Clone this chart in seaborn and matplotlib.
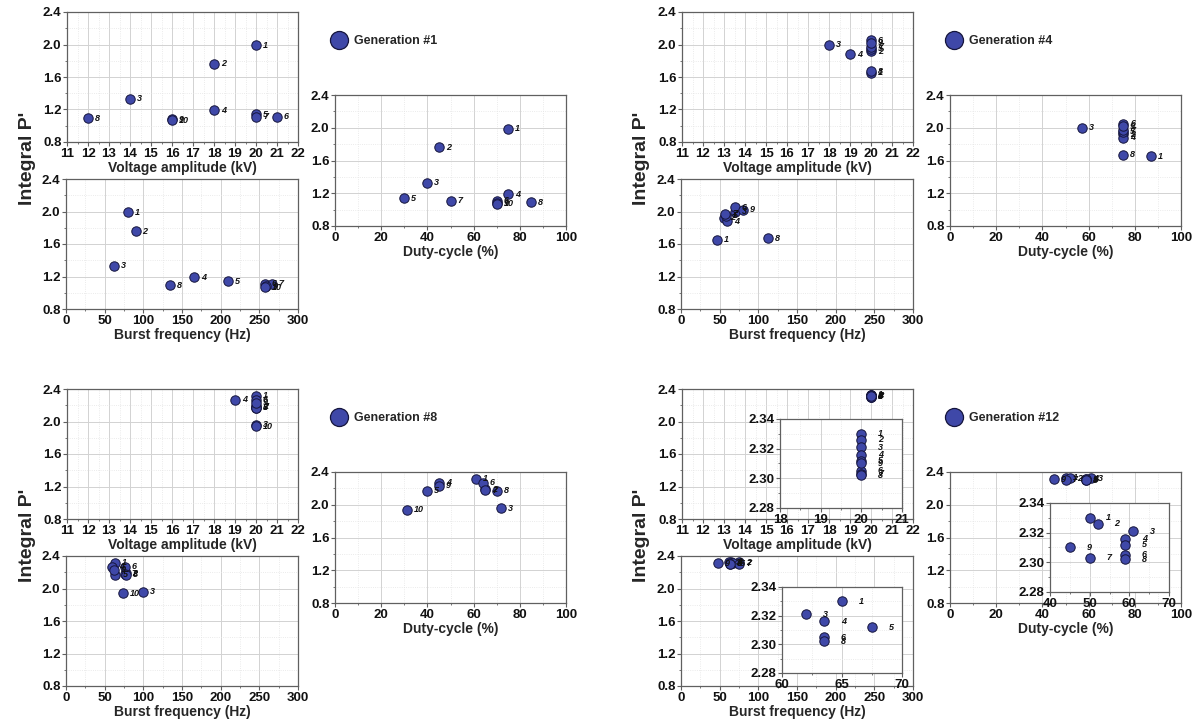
import matplotlib
matplotlib.use("Agg")
import matplotlib.pyplot as plt
from matplotlib.lines import Line2D
from matplotlib.ticker import MultipleLocator, FormatStrFormatter
import seaborn as sns

sns.set_theme(style="white")
plt.rcParams['font.family'] = ['Liberation Sans', 'DejaVu Sans']

W, H = 1196, 724
DOT = "#3f48a8"
EDGE = "#15153c"
SPINE = "#606060"

# ---- data ----
gen1_id = [1, 2, 3, 4, 5, 6, 7, 8, 9, 10]
gen1_volt = [20, 18, 14, 18, 20, 21, 20, 12, 16, 16]
gen1_duty = [75, 45, 40, 75, 30, 70, 50, 85, 70, 70]
gen1_burst = [80, 90, 62, 166, 210, 257, 266, 134, 258, 257]
gen1_p = [1.99, 1.76, 1.33, 1.19, 1.14, 1.11, 1.11, 1.09, 1.08, 1.07]

gen4_id = [1, 2, 3, 4, 5, 6, 7, 8, 9]
gen4_volt = [20, 20, 18, 19, 20, 20, 20, 20, 20]
gen4_duty = [87, 75, 57, 75, 75, 75, 75, 75, 75]
gen4_burst = [47, 55, 70, 60, 58, 70, 57, 113, 80]
gen4_p = [1.65, 1.92, 2.00, 1.88, 1.95, 2.05, 1.97, 1.67, 2.02]

gen8_id = [1, 2, 3, 4, 5, 6, 7, 8, 9, 10]
gen8_volt = [20, 20, 20, 19, 20, 20, 20, 20, 20, 20]
gen8_duty = [61, 65, 72, 45, 40, 64, 65, 70, 45, 31]
gen8_burst = [63, 77, 100, 60, 64, 76, 76, 78, 62, 74]
gen8_p = [2.32, 2.19, 1.96, 2.27, 2.17, 2.27, 2.18, 2.17, 2.23, 1.94]

gen12_id = [1, 2, 3, 4, 5, 6, 7, 8, 9]
gen12_volt = [20, 20, 20, 20, 20, 20, 20, 20, 20]
gen12_duty = [50, 52, 61, 59, 59, 59, 50, 59, 45]
gen12_burst = [65, 75, 62, 63.5, 67.5, 63.5, 75, 63.5, 48]
gen12_p = [2.330, 2.326, 2.321, 2.316, 2.312, 2.305, 2.303, 2.302, 2.310]


def px(l, t, r, b):
    return [l / W, 1 - b / H, (r - l) / W, (b - t) / H]


def panel(ax, x, y, ids, xlim, xmaj, xmin, ylim=(0.8, 2.4), ymaj=0.4, ymin=0.2,
          yfmt='%.1f', xlabel=None, dx=5):
    sns.scatterplot(x=x, y=y, ax=ax, s=46, color=DOT, edgecolor=EDGE,
                    linewidth=0.7, legend=False, zorder=3, clip_on=False)
    for xi, yi, n in zip(x, y, ids):
        ax.annotate(str(n), (xi, yi), xytext=(dx, 0), textcoords='offset points',
                    ha='left', va='center', fontsize=6.5, style='italic',
                    fontweight='bold', color='#111111', zorder=4)
    ax.set_xlim(xlim)
    ax.set_ylim(ylim)
    ax.xaxis.set_major_locator(MultipleLocator(xmaj))
    ax.xaxis.set_minor_locator(MultipleLocator(xmin))
    ax.yaxis.set_major_locator(MultipleLocator(ymaj))
    ax.yaxis.set_minor_locator(MultipleLocator(ymin))
    ax.yaxis.set_major_formatter(FormatStrFormatter(yfmt))
    ax.grid(which='major', color='#d2d2d2', lw=0.7)
    ax.grid(which='minor', color='#e4e4e4', lw=0.6, ls=':')
    ax.set_axisbelow(True)
    for s in ax.spines.values():
        s.set_color(SPINE)
        s.set_linewidth(0.9)
    ax.tick_params(which='major', direction='out', length=3, width=0.8, color=SPINE,
                   labelsize=9.5, pad=1, bottom=True, left=True, labelcolor='#111111')
    ax.tick_params(which='minor', direction='out', length=1.5, width=0.6, color=SPINE,
                   bottom=True, left=True)
    for lab in ax.get_xticklabels() + ax.get_yticklabels():
        lab.set_fontweight('bold')
    ax.set_xlabel(xlabel if xlabel else '', fontsize=10, fontweight='bold', labelpad=1)
    ax.set_ylabel('')


fig = plt.figure(figsize=(W / 100, H / 100), dpi=100)

gens = [
    ("Generation #1", 0, 0, gen1_id, gen1_volt, gen1_duty, gen1_burst, gen1_p),
    ("Generation #4", 615, 0, gen4_id, gen4_volt, gen4_duty, gen4_burst, gen4_p),
    ("Generation #8", 0, 377, gen8_id, gen8_volt, gen8_duty, gen8_burst, gen8_p),
    ("Generation #12", 615, 377, gen12_id, gen12_volt, gen12_duty, gen12_burst, gen12_p),
]

for title, ox, oy, ids, volt, duty, burst, p in gens:
    ax_v = fig.add_axes(px(67 + ox, 12 + oy, 298 + ox, 142 + oy))
    panel(ax_v, volt, p, ids, (11, 22), 1, 0.5, xlabel='Voltage amplitude (kV)')
    ax_b = fig.add_axes(px(66 + ox, 179 + oy, 298 + ox, 309 + oy))
    panel(ax_b, burst, p, ids, (0, 300), 50, 25, xlabel='Burst frequency (Hz)')
    ax_d = fig.add_axes(px(335 + ox, 95 + oy, 566 + ox, 226 + oy))
    panel(ax_d, duty, p, ids, (0, 100), 20, 10, xlabel='Duty-cycle (%)')

    fig.text((27 + ox) / W, 1 - (158 + oy) / H, "Integral P'", rotation=90,
             fontsize=14, fontweight='bold', ha='center', va='center')
    handle = Line2D([], [], ls='none', marker='o', markersize=13,
                    markerfacecolor=DOT, markeredgecolor=EDGE, markeredgewidth=0.9)
    fig.legend([handle], [title], loc='center left', frameon=False,
               bbox_to_anchor=((326 + ox) / W, 1 - (41 + oy) / H),
               prop={'weight': 'bold', 'size': 9}, handletextpad=0.25,
               borderaxespad=0, borderpad=0)

# zoomed insets for generation #12
ins_v = fig.add_axes(px(780, 419, 902, 508))
ins_v.set_facecolor('white')
panel(ins_v, gen12_volt, gen12_p, gen12_id, (18, 21), 1, 0.5, ylim=(2.28, 2.34),
      ymaj=0.02, ymin=0.01, yfmt='%.2f', dx=12)

ins_d = fig.add_axes(px(1050, 503, 1169, 592))
ins_d.set_facecolor('white')
panel(ins_d, gen12_duty, gen12_p, gen12_id, (40, 70), 10, 5, ylim=(2.28, 2.34),
      ymaj=0.02, ymin=0.01, yfmt='%.2f', dx=12)

ins_b = fig.add_axes(px(782, 587, 902, 673))
ins_b.set_facecolor('white')
panel(ins_b, gen12_burst, gen12_p, gen12_id, (60, 70), 5, 2.5, ylim=(2.28, 2.34),
      ymaj=0.02, ymin=0.01, yfmt='%.2f', dx=12)
for a in (ins_v, ins_d, ins_b):
    a.collections[0].set_clip_on(True)

fig.savefig("out.png", dpi=100)
